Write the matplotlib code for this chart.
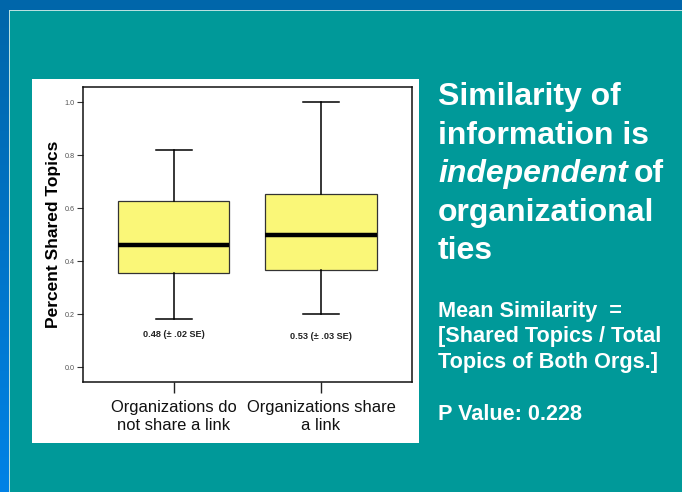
import matplotlib
matplotlib.use("Agg")
import matplotlib.pyplot as plt
from matplotlib.patches import Rectangle
from matplotlib.colors import LinearSegmentedColormap
import numpy as np

# ---- data ----
groups = ["Organizations do\nnot share a link", "Organizations share\na link"]
whisker_low = [0.182, 0.20]
q1 = [0.355, 0.367]
medians = [0.461, 0.50]
q3 = [0.626, 0.653]
whisker_high = [0.819, 1.0]
mean_labels = ["0.48 (\u00b1 .02 SE)", "0.53 (\u00b1 .03 SE)"]
mean_label_y = [0.123, 0.116]
ytick_vals = [0.0, 0.2, 0.4, 0.6, 0.8, 1.0]
ytick_labels = ["0.0", "0.2", "0.4", "0.6", "0.8", "1.0"]

plt.rcParams['font.family'] = ['Liberation Sans', 'DejaVu Sans']

W, H = 682, 492
fig = plt.figure(figsize=(W / 100, H / 100), dpi=100)
fig.patch.set_facecolor("#009999")

def px_rect(x0, y0, x1, y1, **kw):
    fig.patches.append(Rectangle((x0 / W, 1 - y1 / H), (x1 - x0) / W, (y1 - y0) / H,
                                 transform=fig.transFigure, figure=fig, **kw))

# background frame
px_rect(0, 0, W, 10, facecolor="#0066AA", edgecolor="none", zorder=0)
bg = fig.add_axes([0, 0, 9 / W, 1 - 10 / H], zorder=0)
grad = np.linspace(0, 1, 256).reshape(-1, 1)
cm = LinearSegmentedColormap.from_list("b", ["#0066AA", "#0082E6"])
bg.imshow(grad, aspect="auto", cmap=cm, extent=[0, 1, 0, 1], origin="upper")
bg.set_axis_off()
px_rect(9, 10, W, 11, facecolor="#B8E0E0", edgecolor="none", zorder=1)
px_rect(9, 10, 10, H, facecolor="#B8E0E0", edgecolor="none", zorder=1)
# white panel
px_rect(32, 79, 419, 443, facecolor="white", edgecolor="none", zorder=1)

# ---- chart axes ----
ax = fig.add_axes([83.3 / W, 1 - 382 / H, (411.7 - 83.3) / W, (382 - 87.3) / H], zorder=2)
ax.set_facecolor("white")

stats = []
for i in range(len(groups)):
    stats.append(dict(med=medians[i], q1=q1[i], q3=q3[i],
                      whislo=whisker_low[i], whishi=whisker_high[i], fliers=[], label=groups[i]))
positions = np.arange(1, len(groups) + 1)
ax.bxp(stats, positions=positions, widths=0.754, patch_artist=True, showfliers=False,
       boxprops=dict(facecolor="#FAF778", edgecolor="#333333", linewidth=0.9),
       medianprops=dict(color="black", linewidth=3.2),
       whiskerprops=dict(color="black", linewidth=1.1),
       capprops=dict(color="black", linewidth=1.1),
       capwidths=0.245)

for i, lab in enumerate(mean_labels):
    ax.text(positions[i], mean_label_y[i], lab, ha="center", va="center",
            fontsize=6.6, fontweight="bold", color="#222222")

ax.set_xlim(0.386, 2.616)
ax.set_ylim(-0.0555, 1.057)
ax.set_yticks(ytick_vals)
ax.set_yticklabels(ytick_labels, fontsize=5.2, color="#555555")
ax.tick_params(axis="y", direction="out", length=4.5, width=0.8, color="#333333", pad=1.5)
ax.set_xticks(positions)
ax.set_xticklabels(groups, fontsize=11.9, color="#111111", linespacing=1.25)
ax.tick_params(axis="x", direction="out", length=8, width=1.0, color="#222222", pad=5)
for s in ax.spines.values():
    s.set_color("#111111")
    s.set_linewidth(1.1)
ax.set_ylabel("Percent Shared Topics", fontsize=12.5, fontweight="bold", labelpad=3)

# ---- right-side text ----
big = 23
fig.text(438 / W, 1 - 105 / H, "Similarity of", fontsize=big, fontweight="bold", color="white",
         ha="left", va="baseline")
fig.text(438 / W, 1 - 143.5 / H, "information is", fontsize=big, fontweight="bold", color="white",
         ha="left", va="baseline")
t1 = fig.text(438 / W, 1 - 182 / H, "independent", fontsize=big, fontweight="bold", style="italic",
              color="white", ha="left", va="baseline")
fig.canvas.draw()
bb = t1.get_window_extent()
fig.text((bb.x1 + 6) / W, 1 - 182 / H, "of", fontsize=big, fontweight="bold", color="white",
         ha="left", va="baseline")
fig.text(438 / W, 1 - 220.5 / H, "organizational", fontsize=big, fontweight="bold", color="white",
         ha="left", va="baseline")
fig.text(438 / W, 1 - 259 / H, "ties", fontsize=big, fontweight="bold", color="white",
         ha="left", va="baseline")

small = 15.6
side_lines = ["Mean Similarity  =", "[Shared Topics / Total", "Topics of Both Orgs.]"]
for k, ln in enumerate(side_lines):
    fig.text(438 / W, 1 - (316.5 + k * 25.6) / H, ln, fontsize=small,
             fontweight="bold", color="white", ha="left", va="baseline")
fig.text(438 / W, 1 - 420 / H, "P Value: 0.228", fontsize=small, fontweight="bold", color="white",
         ha="left", va="baseline")

fig.savefig("out.png", dpi=100, facecolor=fig.get_facecolor())
